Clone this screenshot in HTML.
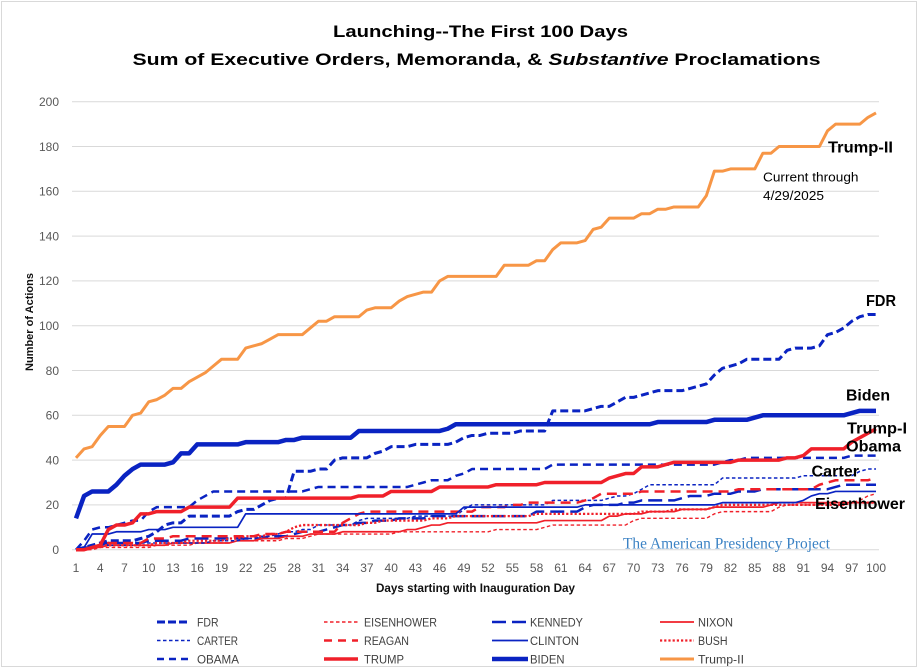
<!DOCTYPE html>
<html><head><meta charset="utf-8"><style>html,body{margin:0;padding:0;background:#fff;}svg{display:block;}</style></head>
<body>
<svg width="920" height="668" viewBox="0 0 920 668" xmlns="http://www.w3.org/2000/svg" font-family="'Liberation Sans', sans-serif">
<rect x="0" y="0" width="920" height="668" fill="#fff"/>
<rect x="1.5" y="1.5" width="915" height="665" fill="none" stroke="#d9d9d9" stroke-width="1"/>

<!-- Title -->
<text x="333" y="37" font-size="17" font-weight="bold" fill="#000" textLength="295" lengthAdjust="spacingAndGlyphs">Launching--The First 100 Days</text>
<text x="132.5" y="65" font-size="17" font-weight="bold" fill="#000" textLength="688" lengthAdjust="spacingAndGlyphs">Sum of Executive Orders, Memoranda, &amp; <tspan font-style="italic">Substantive</tspan> Proclamations</text>

<!-- Gridlines -->
<g stroke="#d9d9d9" stroke-width="1">
<line x1="72" x2="879" y1="549.7" y2="549.7"/>
<line x1="72" x2="879" y1="504.9" y2="504.9"/>
<line x1="72" x2="879" y1="460.1" y2="460.1"/>
<line x1="72" x2="879" y1="415.3" y2="415.3"/>
<line x1="72" x2="879" y1="370.5" y2="370.5"/>
<line x1="72" x2="879" y1="325.7" y2="325.7"/>
<line x1="72" x2="879" y1="280.9" y2="280.9"/>
<line x1="72" x2="879" y1="236.1" y2="236.1"/>
<line x1="72" x2="879" y1="191.3" y2="191.3"/>
<line x1="72" x2="879" y1="146.5" y2="146.5"/>
<line x1="72" x2="879" y1="101.7" y2="101.7"/>
</g>

<!-- Y tick labels -->
<g font-size="12" fill="#595959" text-anchor="end">
<text x="59" y="554">0</text>
<text x="59" y="509.2">20</text>
<text x="59" y="464.4">40</text>
<text x="59" y="419.6">60</text>
<text x="59" y="374.8">80</text>
<text x="59" y="330">100</text>
<text x="59" y="285.2">120</text>
<text x="59" y="240.4">140</text>
<text x="59" y="195.6">160</text>
<text x="59" y="150.8">180</text>
<text x="59" y="106">200</text>
</g>

<!-- X tick labels -->
<g font-size="12" fill="#595959" text-anchor="middle">
<text x="76" y="572">1</text>
<text x="100.2" y="572">4</text>
<text x="124.5" y="572">7</text>
<text x="148.7" y="572">10</text>
<text x="173" y="572">13</text>
<text x="197.2" y="572">16</text>
<text x="221.5" y="572">19</text>
<text x="245.7" y="572">22</text>
<text x="269.9" y="572">25</text>
<text x="294.2" y="572">28</text>
<text x="318.4" y="572">31</text>
<text x="342.7" y="572">34</text>
<text x="366.9" y="572">37</text>
<text x="391.2" y="572">40</text>
<text x="415.4" y="572">43</text>
<text x="439.6" y="572">46</text>
<text x="463.9" y="572">49</text>
<text x="488.1" y="572">52</text>
<text x="512.4" y="572">55</text>
<text x="536.6" y="572">58</text>
<text x="560.9" y="572">61</text>
<text x="585.1" y="572">64</text>
<text x="609.3" y="572">67</text>
<text x="633.6" y="572">70</text>
<text x="657.8" y="572">73</text>
<text x="682.1" y="572">76</text>
<text x="706.3" y="572">79</text>
<text x="730.5" y="572">82</text>
<text x="754.8" y="572">85</text>
<text x="779" y="572">88</text>
<text x="803.3" y="572">91</text>
<text x="827.5" y="572">94</text>
<text x="851.8" y="572">97</text>
<text x="876" y="572">100</text>
</g>

<!-- Axis titles -->
<text x="376" y="592" font-size="12" font-weight="bold" fill="#111" textLength="199" lengthAdjust="spacingAndGlyphs">Days starting with Inauguration Day</text>
<text transform="translate(33,322) rotate(-90)" x="0" y="0" font-size="11" font-weight="bold" fill="#111" text-anchor="middle">Number of Actions</text>

<!-- Watermark -->
<text x="623" y="548.5" font-family="'Liberation Serif', serif" font-size="15.5" fill="#3b82c4" textLength="207" lengthAdjust="spacingAndGlyphs">The American Presidency Project</text>

<!-- Series -->
<g transform="translate(76 549.7) scale(8.0808 -2.24)" fill="none" stroke-linejoin="round">
<!-- FDR -->
<polyline vector-effect="non-scaling-stroke" stroke="#0a23c2" stroke-width="3" stroke-dasharray="8,4" points="0,0 1,1 2,2 3,3 4,4 5,4 6,4 7,4 8,5 9,6 10,8 11,11 12,12 13,12 14,15 15,15 16,15 17,15 18,15 19,15 20,17 21,18 22,18 23,20 24,22 25,23 26,23 27,35 28,35 29,35 30,36 31,36 32,40 33,41 34,41 35,41 36,41 37,43 38,44 39,46 40,46 41,46 42,47 43,47 44,47 45,47 46,47 47,48 48,50 49,51 50,51 51,52 52,52 53,52 54,52 55,53 56,53 57,53 58,53 59,62 60,62 61,62 62,62 63,62 64,63 65,64 66,64 67,66 68,68 69,68 70,69 71,70 72,71 73,71 74,71 75,71 76,72 77,73 78,74 79,78 80,81 81,82 82,83 83,85 84,85 85,85 86,85 87,85 88,89 89,90 90,90 91,90 92,91 93,96 94,97 95,99 96,102 97,104 98,105 99,105"/>
<!-- EISENHOWER -->
<polyline vector-effect="non-scaling-stroke" stroke="#f0202a" stroke-width="1.4" stroke-dasharray="3.5,2.5" points="0,0 1,0 2,0 3,1 4,1 5,1 6,1 7,1 8,1 9,1 10,2 11,2 12,2 13,2 14,2 15,3 16,3 17,3 18,3 19,3 20,4 21,4 22,4 23,4 24,4 25,4 26,5 27,5 28,5 29,6 30,7 31,7 32,7 33,7 34,7 35,7 36,7 37,7 38,7 39,7 40,8 41,8 42,8 43,8 44,8 45,8 46,8 47,8 48,8 49,8 50,8 51,8 52,9 53,9 54,9 55,9 56,9 57,9 58,10 59,11 60,11 61,11 62,11 63,11 64,11 65,11 66,11 67,11 68,11 69,13 70,14 71,14 72,14 73,14 74,14 75,14 76,14 77,14 78,14 79,16 80,17 81,17 82,17 83,17 84,17 85,17 86,17 87,19 88,20 89,20 90,20 91,20 92,20 93,21 94,21 95,21 96,21 97,22 98,24 99,25"/>
<!-- KENNEDY -->
<polyline vector-effect="non-scaling-stroke" stroke="#0a23c2" stroke-width="2.5" stroke-dasharray="14,6" points="0,0 1,1 2,1 3,2 4,3 5,3 6,3 7,3 8,3 9,4 10,4 11,4 12,4 13,4 14,5 15,5 16,5 17,5 18,5 19,5 20,5 21,5 22,5 23,5 24,6 25,6 26,6 27,7 28,8 29,8 30,8 31,9 32,10 33,11 34,11 35,12 36,12 37,13 38,13 39,13 40,14 41,14 42,14 43,14 44,15 45,15 46,15 47,15 48,15 49,15 50,15 51,15 52,15 53,15 54,15 55,15 56,15 57,17 58,17 59,17 60,17 61,17 62,17 63,19 64,20 65,20 66,20 67,20 68,21 69,21 70,22 71,22 72,22 73,22 74,22 75,23 76,24 77,24 78,24 79,25 80,25 81,25 82,26 83,26 84,26 85,27 86,27 87,27 88,27 89,27 90,27 91,27 92,27 93,27 94,28 95,29 96,29 97,29 98,29 99,29"/>
<!-- NIXON -->
<polyline vector-effect="non-scaling-stroke" stroke="#f0202a" stroke-width="1.7" points="0,0 1,0 2,1 3,1 4,2 5,2 6,2 7,2 8,2 9,2 10,2 11,2 12,3 13,3 14,3 15,3 16,3 17,3 18,3 19,3 20,4 21,4 22,4 23,5 24,5 25,5 26,6 27,6 28,6 29,7 30,7 31,7 32,7 33,8 34,8 35,8 36,8 37,8 38,8 39,8 40,8 41,9 42,9 43,10 44,11 45,11 46,12 47,12 48,12 49,12 50,12 51,12 52,12 53,12 54,12 55,12 56,12 57,12 58,13 59,13 60,13 61,13 62,13 63,13 64,13 65,13 66,15 67,15 68,16 69,16 70,16 71,17 72,17 73,17 74,17 75,18 76,18 77,18 78,18 79,19 80,19 81,19 82,19 83,19 84,19 85,19 86,20 87,21 88,21 89,21 90,21 91,21 92,21 93,21 94,21 95,21 96,21 97,21 98,21 99,21"/>
<!-- CARTER -->
<polyline vector-effect="non-scaling-stroke" stroke="#0a23c2" stroke-width="1.5" stroke-dasharray="3.5,2.5" points="0,0 1,1 2,1 3,2 4,2 5,2 6,2 7,2 8,3 9,3 10,3 11,3 12,3 13,3 14,3 15,3 16,3 17,4 18,4 19,4 20,4 21,5 22,5 23,6 24,6 25,7 26,8 27,8 28,9 29,9 30,11 31,11 32,11 33,11 34,11 35,13 36,14 37,14 38,14 39,14 40,14 41,14 42,15 43,15 44,15 45,15 46,15 47,15 48,18 49,20 50,20 51,20 52,20 53,20 54,20 55,20 56,20 57,20 58,20 59,22 60,22 61,22 62,22 63,22 64,22 65,22 66,23 67,24 68,24 69,25 70,27 71,29 72,29 73,29 74,29 75,29 76,29 77,29 78,29 79,29 80,32 81,32 82,32 83,32 84,32 85,32 86,32 87,32 88,32 89,32 90,33 91,33 92,33 93,33 94,33 95,33 96,33 97,35 98,36 99,36"/>
<!-- REAGAN -->
<polyline vector-effect="non-scaling-stroke" stroke="#f0202a" stroke-width="2.5" stroke-dasharray="10,6" points="0,0 1,0 2,1 3,2 4,3 5,3 6,3 7,3 8,3 9,5 10,5 11,5 12,6 13,6 14,6 15,6 16,6 17,6 18,6 19,6 20,6 21,6 22,6 23,7 24,7 25,7 26,8 27,8 28,8 29,8 30,8 31,8 32,8 33,12 34,14 35,16 36,17 37,17 38,17 39,17 40,17 41,17 42,17 43,17 44,17 45,17 46,17 47,17 48,17 49,17 50,19 51,19 52,19 53,19 54,20 55,20 56,21 57,21 58,21 59,21 60,21 61,21 62,21 63,22 64,23 65,25 66,25 67,25 68,25 69,25 70,26 71,26 72,26 73,26 74,26 75,26 76,26 77,26 78,26 79,26 80,26 81,26 82,27 83,27 84,27 85,27 86,27 87,27 88,27 89,27 90,27 91,27 92,29 93,30 94,31 95,31 96,31 97,31 98,31 99,32"/>
<!-- CLINTON -->
<polyline vector-effect="non-scaling-stroke" stroke="#0a23c2" stroke-width="1.7" points="0,0 1,1 2,7 4,7 5,8 8,8 9,9 11,9 12,10 20,10 21,16 47,16 48,19 62,19 63,20 79,20 80,21 89,21 90,22 91,24 92,25 93,25 94,26 99,26"/>
<!-- BUSH -->
<polyline vector-effect="non-scaling-stroke" stroke="#f0202a" stroke-width="2.3" stroke-dasharray="2.2,2" points="0,0 1,0 2,1 3,2 9,2 10,3 13,3 14,4 18,4 19,5 20,5 21,6 23,6 24,7 25,7 26,8 27,10 28,11 35,11 36,12 37,12 38,13 43,13 44,14 46,14 47,15 56,15 57,16 69,16 70,17 73,17 74,18 78,18 79,19 80,20 95,20 96,21 99,21"/>
<!-- OBAMA -->
<polyline vector-effect="non-scaling-stroke" stroke="#0a23c2" stroke-width="2.5" stroke-dasharray="8,5" points="0,0 1,4 2,9 3,10 4,10 5,11 6,12 7,13 8,13 9,17 10,19 14,19 15,22 16,24 17,26 28,26 29,27 30,28 41,28 42,29 43,30 44,31 46,31 47,33 48,34 49,36 58,36 59,38 79,38 80,39 81,40 82,40 83,41 95,41 96,42 99,42"/>
<!-- TRUMP -->
<polyline vector-effect="non-scaling-stroke" stroke="#f0202a" stroke-width="3.5" points="0,0 1,0 2,1 3,2 4,9 5,11 6,11 7,12 8,16 9,16 10,17 13,17 14,19 19,19 20,23 34,23 35,24 38,24 39,26 44,26 45,28 51,28 52,29 57,29 58,30 65,30 66,32 67,33 68,34 69,34 70,37 72,37 73,38 74,39 81,39 82,40 87,40 88,41 89,41 90,42 91,45 95,45 96,48 97,50 98,52 99,54"/>
<!-- BIDEN -->
<polyline vector-effect="non-scaling-stroke" stroke="#0a23c2" stroke-width="4.5" points="0,14 1,24 2,26 4,26 5,29 6,33 7,36 8,38 11,38 12,39 13,43 14,43 15,47 20,47 21,48 25,48 26,49 27,49 28,50 34,50 35,53 45,53 46,54 47,56 71,56 72,57 78,57 79,58 83,58 84,59 85,60 95,60 96,61 97,62 99,62"/>
<!-- Trump-II -->
<polyline vector-effect="non-scaling-stroke" stroke="#f79646" stroke-width="3" points="0,41 1,45 2,46 3,51 4,55 6,55 7,60 8,61 9,66 10,67 11,69 12,72 13,72 14,75 15,77 16,79 17,82 18,85 20,85 21,90 22,91 23,92 24,94 25,96 28,96 29,99 30,102 31,102 32,104 35,104 36,107 37,108 39,108 40,111 41,113 42,114 43,115 44,115 45,120 46,122 52,122 53,127 56,127 57,129 58,129 59,134 60,137 62,137 63,138 64,143 65,144 66,148 69,148 70,150 71,150 72,152 73,152 74,153 77,153 78,158 79,169 80,169 81,170 84,170 85,177 86,177 87,180 92,180 93,187 94,190 97,190 98,193 99,195"/>
</g>

<!-- Series labels -->
<g font-weight="bold" fill="#000" font-size="15.5">
<text x="828" y="152.5" textLength="65" lengthAdjust="spacingAndGlyphs">Trump-II</text>
<text x="866" y="306" textLength="30" lengthAdjust="spacingAndGlyphs">FDR</text>
<text x="846" y="400.5" textLength="44" lengthAdjust="spacingAndGlyphs">Biden</text>
<text x="847" y="433.5" textLength="60" lengthAdjust="spacingAndGlyphs">Trump-I</text>
<text x="846" y="451.5" textLength="55" lengthAdjust="spacingAndGlyphs">Obama</text>
<text x="811.5" y="476.5" textLength="47.5" lengthAdjust="spacingAndGlyphs">Carter</text>
<text x="815" y="509" textLength="90" lengthAdjust="spacingAndGlyphs">Eisenhower</text>
</g>
<text x="763" y="181.5" font-size="13" fill="#000" textLength="95.5" lengthAdjust="spacingAndGlyphs">Current through</text>
<text x="763" y="200" font-size="13" fill="#000" textLength="61" lengthAdjust="spacingAndGlyphs">4/29/2025</text>

<!-- Legend -->
<g fill="none">
<line x1="157" x2="190" y1="622" y2="622" stroke="#0a23c2" stroke-width="3" stroke-dasharray="8,3"/>
<line x1="324" x2="358" y1="622" y2="622" stroke="#f0202a" stroke-width="1.5" stroke-dasharray="3.5,2.5"/>
<line x1="492" x2="528" y1="622" y2="622" stroke="#0a23c2" stroke-width="2.5" stroke-dasharray="14,6"/>
<line x1="660" x2="694" y1="622" y2="622" stroke="#f0202a" stroke-width="1.7"/>
<line x1="157" x2="190" y1="640.5" y2="640.5" stroke="#0a23c2" stroke-width="1.5" stroke-dasharray="3.5,2.5"/>
<line x1="324" x2="358" y1="640.5" y2="640.5" stroke="#f0202a" stroke-width="2.5" stroke-dasharray="8,6"/>
<line x1="492" x2="528" y1="640.5" y2="640.5" stroke="#0a23c2" stroke-width="1.7"/>
<line x1="660" x2="694" y1="640.5" y2="640.5" stroke="#f0202a" stroke-width="2.3" stroke-dasharray="2.2,2"/>
<line x1="157" x2="193" y1="659" y2="659" stroke="#0a23c2" stroke-width="2.5" stroke-dasharray="7,5"/>
<line x1="324" x2="358" y1="659" y2="659" stroke="#f0202a" stroke-width="3.5"/>
<line x1="492" x2="528" y1="659" y2="659" stroke="#0a23c2" stroke-width="4.5"/>
<line x1="660" x2="694" y1="659" y2="659" stroke="#f79646" stroke-width="3"/>
</g>
<g font-size="11.5" fill="#404040">
<text x="197" y="626.3" textLength="21.5" lengthAdjust="spacingAndGlyphs">FDR</text>
<text x="364" y="626.3" textLength="73" lengthAdjust="spacingAndGlyphs">EISENHOWER</text>
<text x="530" y="626.3" textLength="53" lengthAdjust="spacingAndGlyphs">KENNEDY</text>
<text x="698" y="626.3" textLength="35" lengthAdjust="spacingAndGlyphs">NIXON</text>
<text x="197" y="644.8" textLength="41" lengthAdjust="spacingAndGlyphs">CARTER</text>
<text x="364" y="644.8" textLength="45" lengthAdjust="spacingAndGlyphs">REAGAN</text>
<text x="530" y="644.8" textLength="49" lengthAdjust="spacingAndGlyphs">CLINTON</text>
<text x="698" y="644.8" textLength="29.5" lengthAdjust="spacingAndGlyphs">BUSH</text>
<text x="197" y="663.3" textLength="42" lengthAdjust="spacingAndGlyphs">OBAMA</text>
<text x="364" y="663.3" textLength="40" lengthAdjust="spacingAndGlyphs">TRUMP</text>
<text x="530" y="663.3" textLength="34.5" lengthAdjust="spacingAndGlyphs">BIDEN</text>
<text x="698" y="663.3" textLength="46" lengthAdjust="spacingAndGlyphs">Trump-II</text>
</g>
</svg>
</body></html>
